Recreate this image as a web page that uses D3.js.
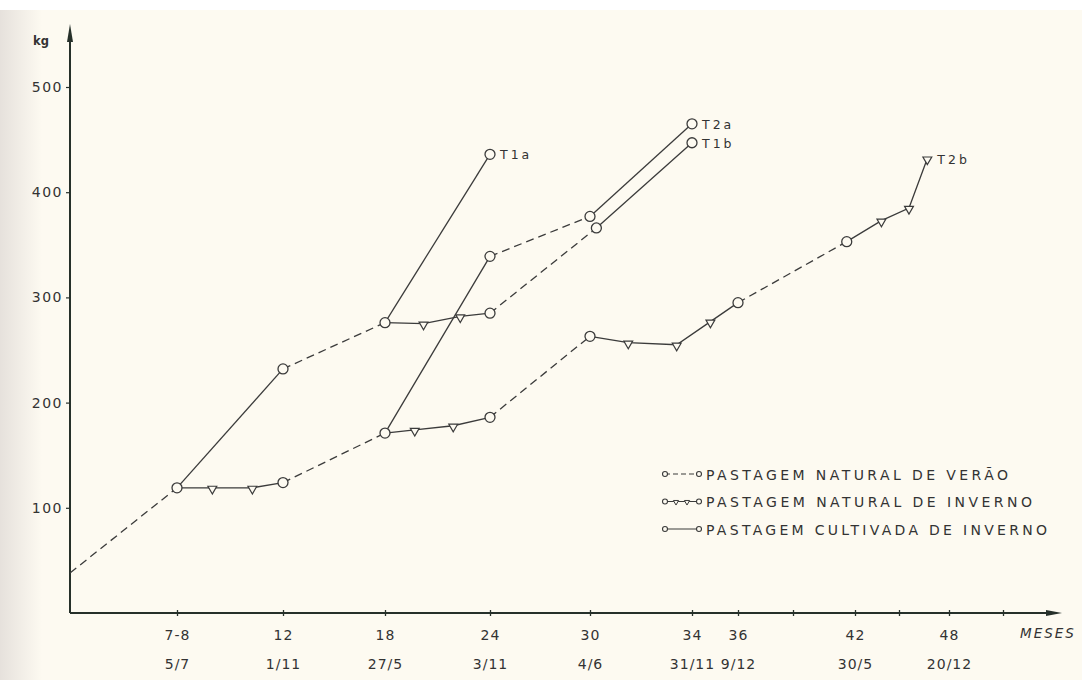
<!DOCTYPE html>
<html>
<head>
<meta charset="utf-8">
<script src="https://cdn.jsdelivr.net/npm/d3@7"></script>
<style>
  html, body { margin: 0; padding: 0; background: #fdfaf1; }
  svg { display: block; }
  text { font-family: "DejaVu Sans", sans-serif; fill: #333333; }
</style>
</head>
<body>
<svg id="chart" width="1082" height="680"></svg>
<script>
// ---------------- DATA ----------------
// x: age in months, y: live weight (kg)
const xTickMonths = [7.5, 12, 18, 24, 30, 34, 36, 39, 42, 45, 48, 51];
const xTickAges   = ["7-8", "12", "18", "24", "30", "34", "36", "", "42", "", "48", ""];
const xTickDates  = ["5/7", "1/11", "27/5", "3/11", "4/6", "31/11", "9/12", "", "30/5", "", "20/12", ""];
const yTickValues = [100, 200, 300, 400, 500];

// Pastagem natural de verão (dashed segments)
const naturalVerao = [
  [[0, 38], [7.5, 119]],
  [[12, 232], [18, 276]],
  [[12, 124], [18, 171]],
  [[24, 285], [30.25, 366]],
  [[24, 339], [30, 377]],
  [[24, 186], [30, 263]],
  [[36, 295], [41.6, 353]]
];
// Pastagem natural de inverno (solid with intermediate triangles)
const naturalInverno = [
  [[7.5, 119], [9, 119], [10.7, 119], [12, 124]],
  [[18, 276], [20.2, 275], [22.3, 282], [24, 285]],
  [[18, 171], [19.7, 174], [21.9, 178], [24, 186]],
  [[30, 263], [31.5, 257], [33.4, 255], [34.8, 277], [36, 295]],
  [[41.6, 353], [43.8, 373], [45.6, 385], [46.7, 432]]
];
// Pastagem cultivada de inverno (solid)
const cultivadaInverno = [
  [[7.5, 119], [12, 232]],
  [[18, 276], [24, 436]],
  [[18, 171], [24, 339]],
  [[30.25, 366], [34, 447]],
  [[30, 377], [34, 465]]
];
// Treatment end labels
const treatmentLabels = [
  { name: "T1a", m: 24, kg: 436 },
  { name: "T2a", m: 34, kg: 465 },
  { name: "T1b", m: 34, kg: 447 },
  { name: "T2b", m: 46.7, kg: 432 }
];
const legendItems = ["PASTAGEM NATURAL DE VERÃO", "PASTAGEM NATURAL DE INVERNO", "PASTAGEM CULTIVADA DE INVERNO"];

// ---------------- DRAW ----------------
const svg = d3.select("#chart");
const W = 1082, H = 680;
const ink = "#3b3b3b", axisInk = "#26302a";

// background paper
const defs = svg.append("defs");
const grad = defs.append("linearGradient").attr("id", "edge").attr("x1", 0).attr("x2", 1);
grad.append("stop").attr("offset", 0).attr("stop-color", "#e6e1dc");
grad.append("stop").attr("offset", 1).attr("stop-color", "#fdfaf1");
svg.append("rect").attr("width", W).attr("height", H).attr("fill", "#fdfaf1");
svg.append("rect").attr("x", 0).attr("y", 0).attr("width", 42).attr("height", H).attr("fill", "url(#edge)");
svg.append("rect").attr("x", 0).attr("y", 0).attr("width", W).attr("height", 10).attr("fill", "#ffffff");

// hand-drawn, non-uniform month axis -> piecewise linear scale
const x = d3.scaleLinear()
  .domain([0, 7.5, 12, 18, 24, 30, 34, 36, 39, 42, 45, 48, 51, 53.5])
  .range([70, 177, 283, 385, 490, 590, 692, 738, 793, 855, 899, 949, 1003, 1062]);
const y = d3.scaleLinear().domain([0, 500]).range([613, 87]);

const line = d3.line().x(d => x(d[0])).y(d => y(d[1]));

// axes lines with arrows
const x0 = x(0), y0 = y(0);
svg.append("line").attr("x1", x0).attr("x2", x(53.5) - 6).attr("y1", y0).attr("y2", y0)
  .attr("stroke", axisInk).attr("stroke-width", 2);
svg.append("path").attr("d", `M${x(53.5)},${y0} L${x(53.5) - 16},${y0 - 3} L${x(53.5) - 16},${y0 + 3} Z`).attr("fill", axisInk);
svg.append("line").attr("x1", x0).attr("x2", x0).attr("y1", y0).attr("y2", 30)
  .attr("stroke", axisInk).attr("stroke-width", 2);
svg.append("path").attr("d", `M${x0},24 L${x0 - 3},42 L${x0 + 3},42 Z`).attr("fill", axisInk);

// x axis ticks & labels
const xAxis = svg.append("g").attr("transform", `translate(0,${y0 - 3})`)
  .call(d3.axisBottom(x).tickValues(xTickMonths).tickSize(6).tickFormat((d, i) => xTickAges[i]));
xAxis.select(".domain").remove();
xAxis.selectAll(".tick line").attr("stroke", axisInk).attr("stroke-width", 1.3);
xAxis.selectAll(".tick text").attr("y", 20).attr("font-size", 14).attr("letter-spacing", 1)
  .style("font-family", "DejaVu Sans").attr("fill", "#333");
const xDates = svg.append("g").attr("transform", `translate(0,${y0 - 3})`)
  .call(d3.axisBottom(x).tickValues(xTickMonths).tickSize(0).tickFormat((d, i) => xTickDates[i]));
xDates.select(".domain").remove();
xDates.selectAll(".tick text").attr("y", 49).attr("font-size", 14).attr("letter-spacing", 1)
  .style("font-family", "DejaVu Sans").attr("fill", "#333");
svg.append("text").attr("x", 1020).attr("y", 638).attr("font-size", 13.5).attr("letter-spacing", 2)
  .attr("font-style", "italic").text("MESES");

// y axis
const yAxis = svg.append("g").attr("transform", `translate(${x0},0)`)
  .call(d3.axisLeft(y).tickValues(yTickValues).tickSize(4).tickPadding(3));
yAxis.select(".domain").remove();
yAxis.selectAll(".tick line").attr("stroke", axisInk).attr("stroke-width", 1.2);
yAxis.selectAll(".tick text").attr("font-size", 14).attr("letter-spacing", 1.5)
  .style("font-family", "DejaVu Sans").attr("fill", "#333");
svg.append("text").attr("x", 33).attr("y", 45).attr("font-size", 11.5).attr("font-weight", "bold").text("kg");

// series lines
const gLines = svg.append("g").attr("fill", "none").attr("stroke", ink).attr("stroke-width", 1.3);
gLines.selectAll(".verao").data(naturalVerao).join("path").attr("class", "verao")
  .attr("d", line).attr("stroke-dasharray", "8,5");
gLines.selectAll(".ninv").data(naturalInverno).join("path").attr("class", "ninv").attr("d", line);
gLines.selectAll(".cinv").data(cultivadaInverno).join("path").attr("class", "cinv").attr("d", line);

// markers: circles at period ends, triangles at intermediate winter weighings
const key = p => p[0] + "_" + p[1];
const circleMap = new Map();
[...naturalVerao, ...cultivadaInverno, ...naturalInverno].forEach(seg => {
  [seg[0], seg[seg.length - 1]].forEach(p => { if (p[0] > 0) circleMap.set(key(p), p); });
});
const triPts = [];
naturalInverno.forEach(seg => {
  seg.slice(1, -1).forEach(p => triPts.push(p));
});
// final T2b weighing is drawn as a triangle
const lastSeg = naturalInverno[naturalInverno.length - 1];
const lastPt = lastSeg[lastSeg.length - 1];
circleMap.delete(key(lastPt));
triPts.push(lastPt);

svg.append("g").selectAll("circle").data([...circleMap.values()]).join("circle")
  .attr("cx", d => x(d[0])).attr("cy", d => y(d[1])).attr("r", 5)
  .attr("fill", "#fdfaf1").attr("stroke", ink).attr("stroke-width", 1.3);
const tri = d3.symbol().type(d3.symbolTriangle).size(34);
svg.append("g").selectAll("path").data(triPts).join("path")
  .attr("d", tri).attr("transform", d => `translate(${x(d[0])},${y(d[1]) + 1}) rotate(180)`)
  .attr("fill", "#fdfaf1").attr("stroke", ink).attr("stroke-width", 1.2);

// treatment labels
svg.append("g").selectAll("text").data(treatmentLabels).join("text")
  .attr("x", d => x(d.m) + 10).attr("y", d => y(d.kg) + 5)
  .attr("font-size", 12.5).attr("letter-spacing", 3).text(d => d.name);

// legend
const lg = svg.append("g").attr("transform", "translate(665,474)");
const widths = [302, 326, 341];
legendItems.forEach((label, i) => {
  const row = lg.append("g").attr("transform", `translate(0,${i * 27.5})`);
  const ln = row.append("line").attr("x1", 0).attr("x2", 34).attr("y1", 0).attr("y2", 0)
    .attr("stroke", ink).attr("stroke-width", 1.2);
  if (i === 0) ln.attr("stroke-dasharray", "5,3");
  if (i === 1) {
    [11, 22].forEach(t => row.append("path").attr("d", d3.symbol().type(d3.symbolTriangle).size(12))
      .attr("transform", `translate(${t},0.5) rotate(180)`).attr("fill", "#fdfaf1").attr("stroke", ink).attr("stroke-width", 1));
  }
  [0, 34].forEach(cx => row.append("circle").attr("cx", cx).attr("cy", 0).attr("r", 2.5)
    .attr("fill", "#fdfaf1").attr("stroke", ink).attr("stroke-width", 1.1));
  row.append("text").attr("x", 41).attr("y", 5.5).attr("font-size", 14)
    .attr("textLength", widths[i]).attr("lengthAdjust", "spacing").text(label);
});
</script>
</body>
</html>
